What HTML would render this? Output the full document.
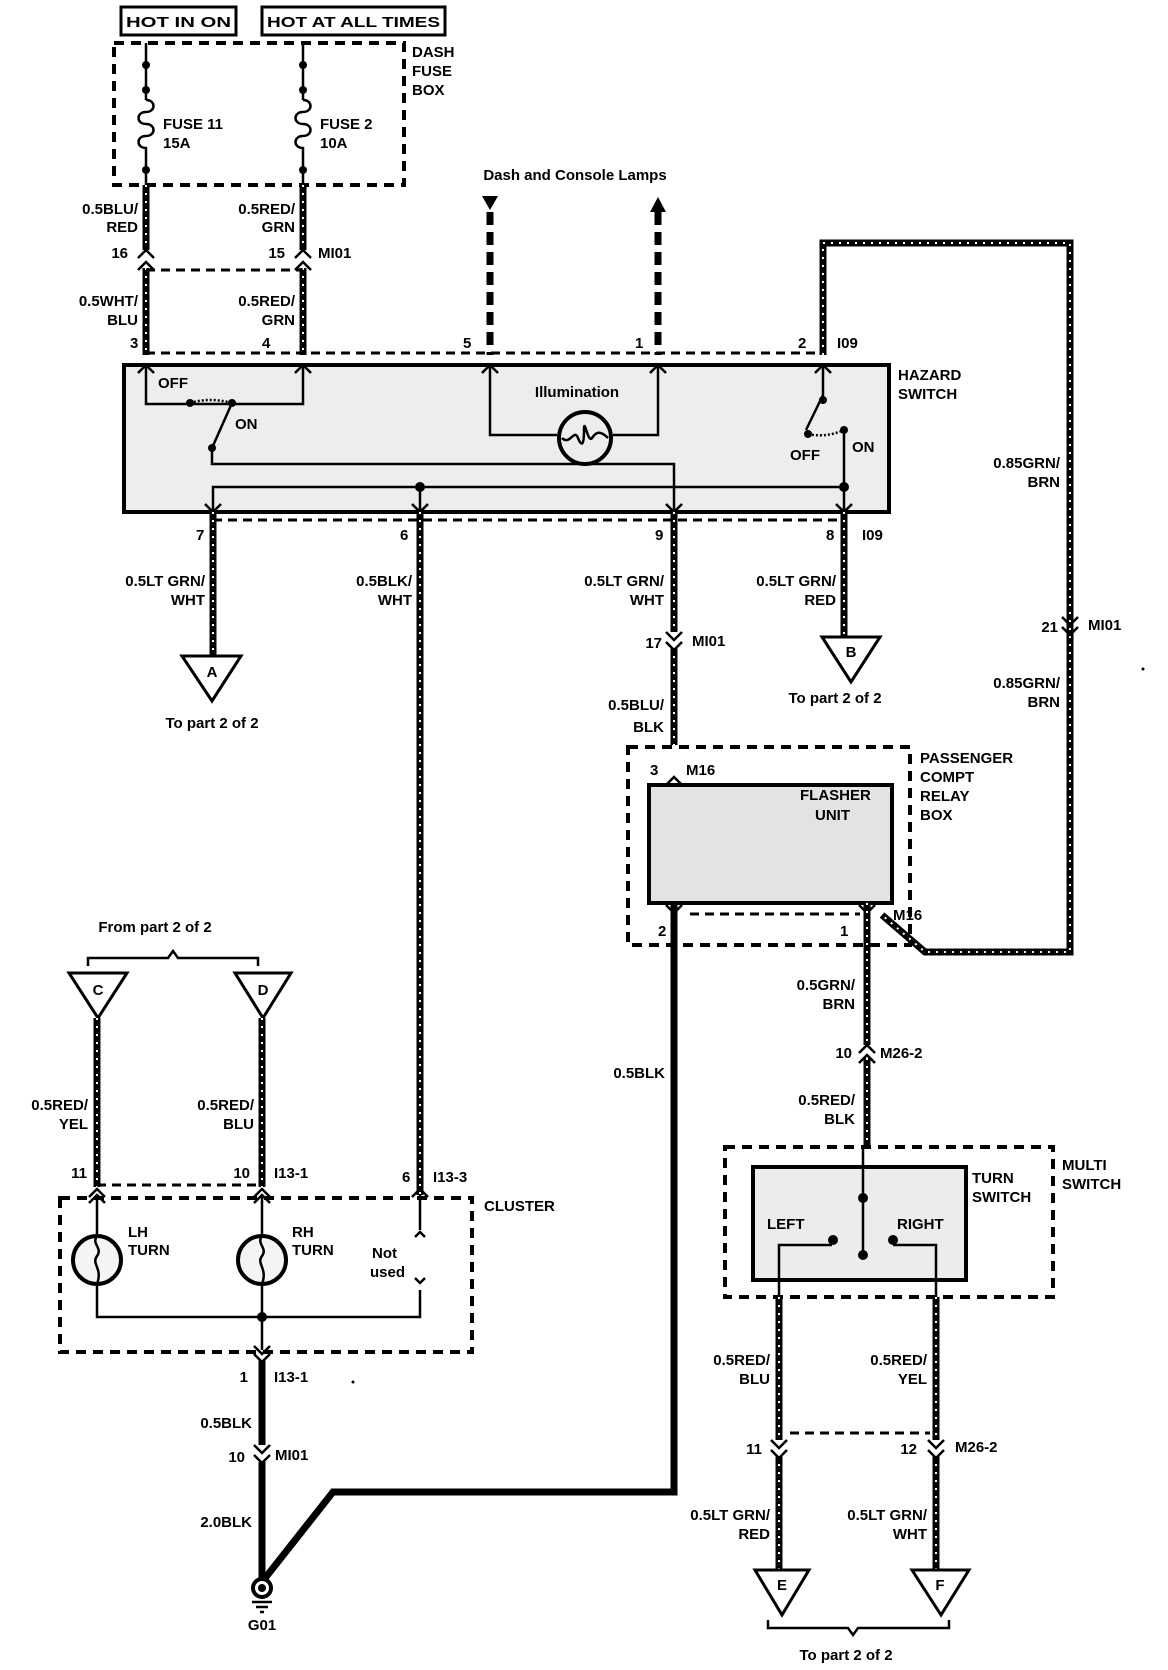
<!DOCTYPE html>
<html><head><meta charset="utf-8"><style>
html,body{margin:0;padding:0;background:#fff}
svg{display:block}
text{font-family:"Liberation Sans",sans-serif;font-weight:bold;font-size:15px;fill:#000}
.w{stroke:#000;stroke-width:7;fill:none}
.h{stroke:#fff;stroke-width:2;stroke-dasharray:2 6;fill:none}
.t{stroke:#000;stroke-width:2.5;fill:none}
.d{stroke:#000;stroke-width:3;stroke-dasharray:9 6;fill:none}
.dz{stroke:#000;stroke-width:4;stroke-dasharray:10 7;fill:none}
.bx{stroke:#000;stroke-width:4;fill:#ededed}
.ch{stroke:#000;stroke-width:2.5;fill:none}
</style></head><body>
<svg width="1168" height="1670" viewBox="0 0 1168 1670" xmlns="http://www.w3.org/2000/svg">
<rect x="121" y="7" width="115" height="28" fill="none" stroke="#000" stroke-width="3"/>
<text x="126" y="27" font-size="17" textLength="105" lengthAdjust="spacingAndGlyphs">HOT IN ON</text>
<rect x="262" y="7" width="183" height="28" fill="none" stroke="#000" stroke-width="3"/>
<text x="267" y="27" font-size="17" textLength="173" lengthAdjust="spacingAndGlyphs">HOT AT ALL TIMES</text>
<rect x="114" y="43" width="290" height="142" fill="#f2f2f2" class="dz"/>
<text x="412" y="57">DASH</text><text x="412" y="76">FUSE</text><text x="412" y="95">BOX</text>
<path class="t" d="M146 43V100 M146 155V185 M303 43V100 M303 155V185"/>
<path class="t" d="M146 100c10 0 10 12 0 12 c-10 0-10 12 0 12 c10 0 10 12 0 12 c-10 0-10 12 0 12 v7"/>
<path class="t" d="M303 100c10 0 10 12 0 12 c-10 0-10 12 0 12 c10 0 10 12 0 12 c-10 0-10 12 0 12 v7"/>
<circle cx="146" cy="65" r="4"/><circle cx="146" cy="90" r="4"/><circle cx="146" cy="170" r="4"/>
<circle cx="303" cy="65" r="4"/><circle cx="303" cy="90" r="4"/><circle cx="303" cy="170" r="4"/>
<text x="163" y="129">FUSE 11</text><text x="163" y="148">15A</text>
<text x="320" y="129">FUSE 2</text><text x="320" y="148">10A</text>
<path class="w" d="M146 185V250 M146 268V355 M303 185V250 M303 268V355"/>
<path class="h" d="M146 185V250 M146 268V355 M303 185V250 M303 268V355"/>
<path class="ch" d="M138 258l8-8 8 8 M295 258l8-8 8 8 M138 270l8-8 8 8 M295 270l8-8 8 8"/>
<path class="d" d="M146 270H303"/>
<text x="138" y="214" text-anchor="end">0.5BLU/</text><text x="138" y="232" text-anchor="end">RED</text>
<text x="295" y="214" text-anchor="end">0.5RED/</text><text x="295" y="232" text-anchor="end">GRN</text>
<text x="128" y="258" text-anchor="end">16</text><text x="285" y="258" text-anchor="end">15</text>
<text x="318" y="258">MI01</text>
<text x="138" y="306" text-anchor="end">0.5WHT/</text><text x="138" y="325" text-anchor="end">BLU</text>
<text x="295" y="306" text-anchor="end">0.5RED/</text><text x="295" y="325" text-anchor="end">GRN</text>
<text x="130" y="348">3</text><text x="262" y="348">4</text><text x="463" y="348">5</text><text x="635" y="348">1</text><text x="798" y="348">2</text>
<text x="837" y="348">I09</text>
<text x="575" y="180" text-anchor="middle">Dash and Console Lamps</text>
<path d="M482 196h16l-8 14z"/><path d="M650 212h16l-8-15z"/>
<path stroke="#000" stroke-width="7" stroke-dasharray="13 7" d="M490 212V355 M658 212V355"/>
<path class="d" d="M146 353H823"/>
<path class="w" d="M823 355V243H1070V952H925L882 915"/>
<path class="h" d="M823 355V243H1070V952H925L882 915"/>
<rect x="124" y="365" width="765" height="147" class="bx"/>
<text x="898" y="380">HAZARD</text><text x="898" y="399">SWITCH</text>
<path class="t" d="M146 365V404H303V365 M490 365V435H557 M613 435H658V365"/>
<path class="ch" d="M138 373l8-8 8 8 M295 373l8-8 8 8 M482 373l8-8 8 8 M650 373l8-8 8 8 M815 373l8-8 8 8"/>
<text x="158" y="388">OFF</text><text x="235" y="429">ON</text>
<circle cx="190" cy="403" r="4"/><circle cx="232" cy="403" r="4"/><circle cx="212" cy="448" r="4"/>
<path class="t" d="M190 403q20-6 42 0" stroke-dasharray="2 2"/>
<path class="t" d="M212 448L232 403"/>
<path class="t" d="M212 448V464H674V512 M213 512V487H844 M420 487V512 M844 512V465"/>
<circle cx="420" cy="487" r="5"/><circle cx="844" cy="487" r="5"/>
<text x="577" y="397" text-anchor="middle" font-size="14">Illumination</text>
<circle cx="585" cy="438" r="26" fill="#ededed" stroke="#000" stroke-width="4"/>
<path class="t" d="M562 438c8 8 12-10 16 0 s6 6 6-8 s4 14 8 8 s8-8 16 0"/>
<path class="t" d="M823 365V395L806 430"/>
<circle cx="823" cy="400" r="4"/><circle cx="808" cy="434" r="4"/><circle cx="844" cy="430" r="4"/>
<path class="t" d="M808 434q18 4 36-4" stroke-dasharray="2 2"/>
<path class="t" d="M844 430V465"/>
<text x="790" y="460">OFF</text><text x="852" y="452">ON</text>
<path class="ch" d="M205 504l8 8 8-8 M412 504l8 8 8-8 M666 504l8 8 8-8 M836 504l8 8 8-8"/>
<path class="d" d="M213 520H844"/>
<text x="196" y="540">7</text><text x="400" y="540">6</text><text x="655" y="540">9</text><text x="826" y="540">8</text>
<text x="862" y="540">I09</text>
<path class="w" d="M213 512V656 M420 512V1195 M674 512V632 M674 648V745 M844 512V637"/>
<path class="h" d="M213 512V656 M420 512V1195 M674 512V632 M674 648V745 M844 512V637"/>
<text x="205" y="586" text-anchor="end">0.5LT GRN/</text><text x="205" y="605" text-anchor="end">WHT</text>
<text x="412" y="586" text-anchor="end">0.5BLK/</text><text x="412" y="605" text-anchor="end">WHT</text>
<text x="664" y="586" text-anchor="end">0.5LT GRN/</text><text x="664" y="605" text-anchor="end">WHT</text>
<text x="836" y="586" text-anchor="end">0.5LT GRN/</text><text x="836" y="605" text-anchor="end">RED</text>
<path class="ch" d="M666 632l8 8 8-8 M666 642l8 8 8-8"/>
<text x="662" y="648" text-anchor="end">17</text><text x="692" y="646">MI01</text>
<path d="M182 656h59l-29 45z" fill="#fff" stroke="#000" stroke-width="3"/><text x="212" y="677" text-anchor="middle">A</text>
<text x="212" y="728" text-anchor="middle">To part 2 of 2</text>
<path d="M822 637h58l-29 45z" fill="#fff" stroke="#000" stroke-width="3"/><text x="851" y="657" text-anchor="middle">B</text>
<text x="835" y="703" text-anchor="middle">To part 2 of 2</text>
<path class="ch" d="M1062 617l8 8 8-8 M1062 627l8 8 8-8"/>
<text x="1058" y="632" text-anchor="end">21</text><text x="1088" y="630">MI01</text>
<text x="1060" y="688" text-anchor="end">0.85GRN/</text><text x="1060" y="707" text-anchor="end">BRN</text>
<text x="1060" y="468" text-anchor="end">0.85GRN/</text><text x="1060" y="487" text-anchor="end">BRN</text>
<text x="664" y="710" text-anchor="end">0.5BLU/</text><text x="664" y="732" text-anchor="end">BLK</text>
<rect x="628" y="747" width="282" height="198" fill="#f2f2f2" class="dz"/>
<text x="920" y="763">PASSENGER</text><text x="920" y="782">COMPT</text><text x="920" y="801">RELAY</text><text x="920" y="820">BOX</text>
<text x="650" y="775">3</text><text x="686" y="775">M16</text>
<path class="ch" d="M666 785l8-8 8 8"/>
<rect x="649" y="785" width="243" height="118" fill="#e3e3e3" stroke="#000" stroke-width="4"/>
<text x="800" y="800">FLASHER</text><text x="815" y="820">UNIT</text>
<path class="d" d="M690 914H860"/>
<path class="ch" d="M666 905l8 8 8-8 M859 905l8 8 8-8"/>
<text x="658" y="936">2</text><text x="840" y="936">1</text><text x="893" y="920">M16</text>
<path stroke="#000" stroke-width="7" fill="none" d="M674 903V1492H333L262 1582"/>
<text x="665" y="1078" text-anchor="end">0.5BLK</text>
<path class="w" d="M867 903V1045 M867 1058V1148"/>
<path class="h" d="M867 903V1045 M867 1058V1148"/>
<text x="855" y="990" text-anchor="end">0.5GRN/</text><text x="855" y="1009" text-anchor="end">BRN</text>
<path class="ch" d="M859 1053l8-8 8 8 M859 1063l8-8 8 8"/>
<text x="852" y="1058" text-anchor="end">10</text><text x="880" y="1058">M26-2</text>
<text x="855" y="1105" text-anchor="end">0.5RED/</text><text x="855" y="1124" text-anchor="end">BLK</text>
<rect x="725" y="1147" width="328" height="150" fill="#f2f2f2" class="dz"/>
<text x="1062" y="1170">MULTI</text><text x="1062" y="1189">SWITCH</text>
<rect x="753" y="1167" width="213" height="113" fill="#ececec" stroke="#000" stroke-width="4"/>
<text x="972" y="1183">TURN</text><text x="972" y="1202">SWITCH</text>
<text x="767" y="1229">LEFT</text><text x="897" y="1229">RIGHT</text>
<path class="t" d="M863 1148V1252 M779 1297V1245H832 M936 1297V1245H893"/>
<circle cx="863" cy="1198" r="5"/><circle cx="863" cy="1255" r="5"/><circle cx="833" cy="1240" r="5"/><circle cx="893" cy="1240" r="5"/>
<path class="w" d="M779 1297V1440 M779 1456V1570 M936 1297V1440 M936 1456V1570"/>
<path class="h" d="M779 1297V1440 M779 1456V1570 M936 1297V1440 M936 1456V1570"/>
<text x="770" y="1365" text-anchor="end">0.5RED/</text><text x="770" y="1384" text-anchor="end">BLU</text>
<text x="927" y="1365" text-anchor="end">0.5RED/</text><text x="927" y="1384" text-anchor="end">YEL</text>
<path class="d" d="M790 1433H930"/>
<path class="ch" d="M771 1440l8 8 8-8 M928 1440l8 8 8-8 M771 1450l8 8 8-8 M928 1450l8 8 8-8"/>
<text x="762" y="1454" text-anchor="end">11</text><text x="917" y="1454" text-anchor="end">12</text><text x="955" y="1452">M26-2</text>
<text x="770" y="1520" text-anchor="end">0.5LT GRN/</text><text x="770" y="1539" text-anchor="end">RED</text>
<text x="927" y="1520" text-anchor="end">0.5LT GRN/</text><text x="927" y="1539" text-anchor="end">WHT</text>
<path d="M755 1570h54l-27 45z" fill="#fff" stroke="#000" stroke-width="3"/><text x="782" y="1590" text-anchor="middle">E</text>
<path d="M912 1570h57l-28 45z" fill="#fff" stroke="#000" stroke-width="3"/><text x="940" y="1590" text-anchor="middle">F</text>
<path class="t" d="M768 1620v8h80l5 7 5-7h91v-8"/>
<text x="846" y="1660" text-anchor="middle">To part 2 of 2</text>
<text x="155" y="932" text-anchor="middle">From part 2 of 2</text>
<path class="t" d="M88 966v-8h80l5-7 5 7h80v8"/>
<path d="M69 973h58l-29 45z" fill="#fff" stroke="#000" stroke-width="3"/><text x="98" y="995" text-anchor="middle">C</text>
<path d="M235 973h56l-28 45z" fill="#fff" stroke="#000" stroke-width="3"/><text x="263" y="995" text-anchor="middle">D</text>
<path class="w" d="M97 1018V1187 M262 1018V1187"/>
<path class="h" d="M97 1018V1187 M262 1018V1187"/>
<text x="88" y="1110" text-anchor="end">0.5RED/</text><text x="88" y="1129" text-anchor="end">YEL</text>
<text x="254" y="1110" text-anchor="end">0.5RED/</text><text x="254" y="1129" text-anchor="end">BLU</text>
<text x="87" y="1178" text-anchor="end">11</text><text x="250" y="1178" text-anchor="end">10</text>
<text x="274" y="1178">I13-1</text><text x="402" y="1182">6</text><text x="433" y="1182">I13-3</text>
<path class="d" d="M97 1185H262"/>
<rect x="60" y="1198" width="412" height="154" fill="#f4f4f4" class="dz"/>
<text x="484" y="1211">CLUSTER</text>
<path class="ch" d="M89 1197l8-8 8 8 M254 1197l8-8 8 8 M412 1197l8-8 8 8 M89 1203l8-8 8 8 M254 1203l8-8 8 8"/>
<path class="t" d="M97 1195V1317H420V1290 M262 1195V1350 M420 1195V1230"/>
<path class="ch" d="M415 1237l5-5 5 5 M415 1278l5 5 5-5"/>
<circle cx="97" cy="1260" r="24" fill="#f4f4f4" stroke="#000" stroke-width="4"/>
<circle cx="262" cy="1260" r="24" fill="#f4f4f4" stroke="#000" stroke-width="4"/>
<path class="t" d="M97 1236c-6 8 6 12 0 20 s6 12 0 28 M262 1236c-6 8 6 12 0 20 s6 12 0 28"/>
<circle cx="262" cy="1317" r="5"/>
<text x="128" y="1237">LH</text><text x="128" y="1255">TURN</text>
<text x="292" y="1237">RH</text><text x="292" y="1255">TURN</text>
<text x="372" y="1258">Not</text><text x="370" y="1277">used</text>
<path class="ch" d="M254 1346l8 8 8-8 M254 1354l8 8 8-8"/>
<text x="248" y="1382" text-anchor="end">1</text><text x="274" y="1382">I13-1</text>
<circle cx="353" cy="1382" r="1.5"/>
<path stroke="#000" stroke-width="7" d="M262 1360V1445 M262 1462V1585"/>
<path class="ch" d="M254 1445l8 8 8-8 M254 1455l8 8 8-8"/>
<text x="252" y="1428" text-anchor="end">0.5BLK</text>
<text x="245" y="1462" text-anchor="end">10</text><text x="275" y="1460">MI01</text>
<text x="252" y="1527" text-anchor="end">2.0BLK</text>
<circle cx="262" cy="1588" r="9" fill="#fff" stroke="#000" stroke-width="4"/><circle cx="262" cy="1588" r="4"/>
<path class="t" d="M252 1602h20 M256 1607h12 M260 1612h4"/>
<text x="262" y="1630" text-anchor="middle">G01</text>
<circle cx="1143" cy="669" r="1.5"/>
</svg>
</body></html>
